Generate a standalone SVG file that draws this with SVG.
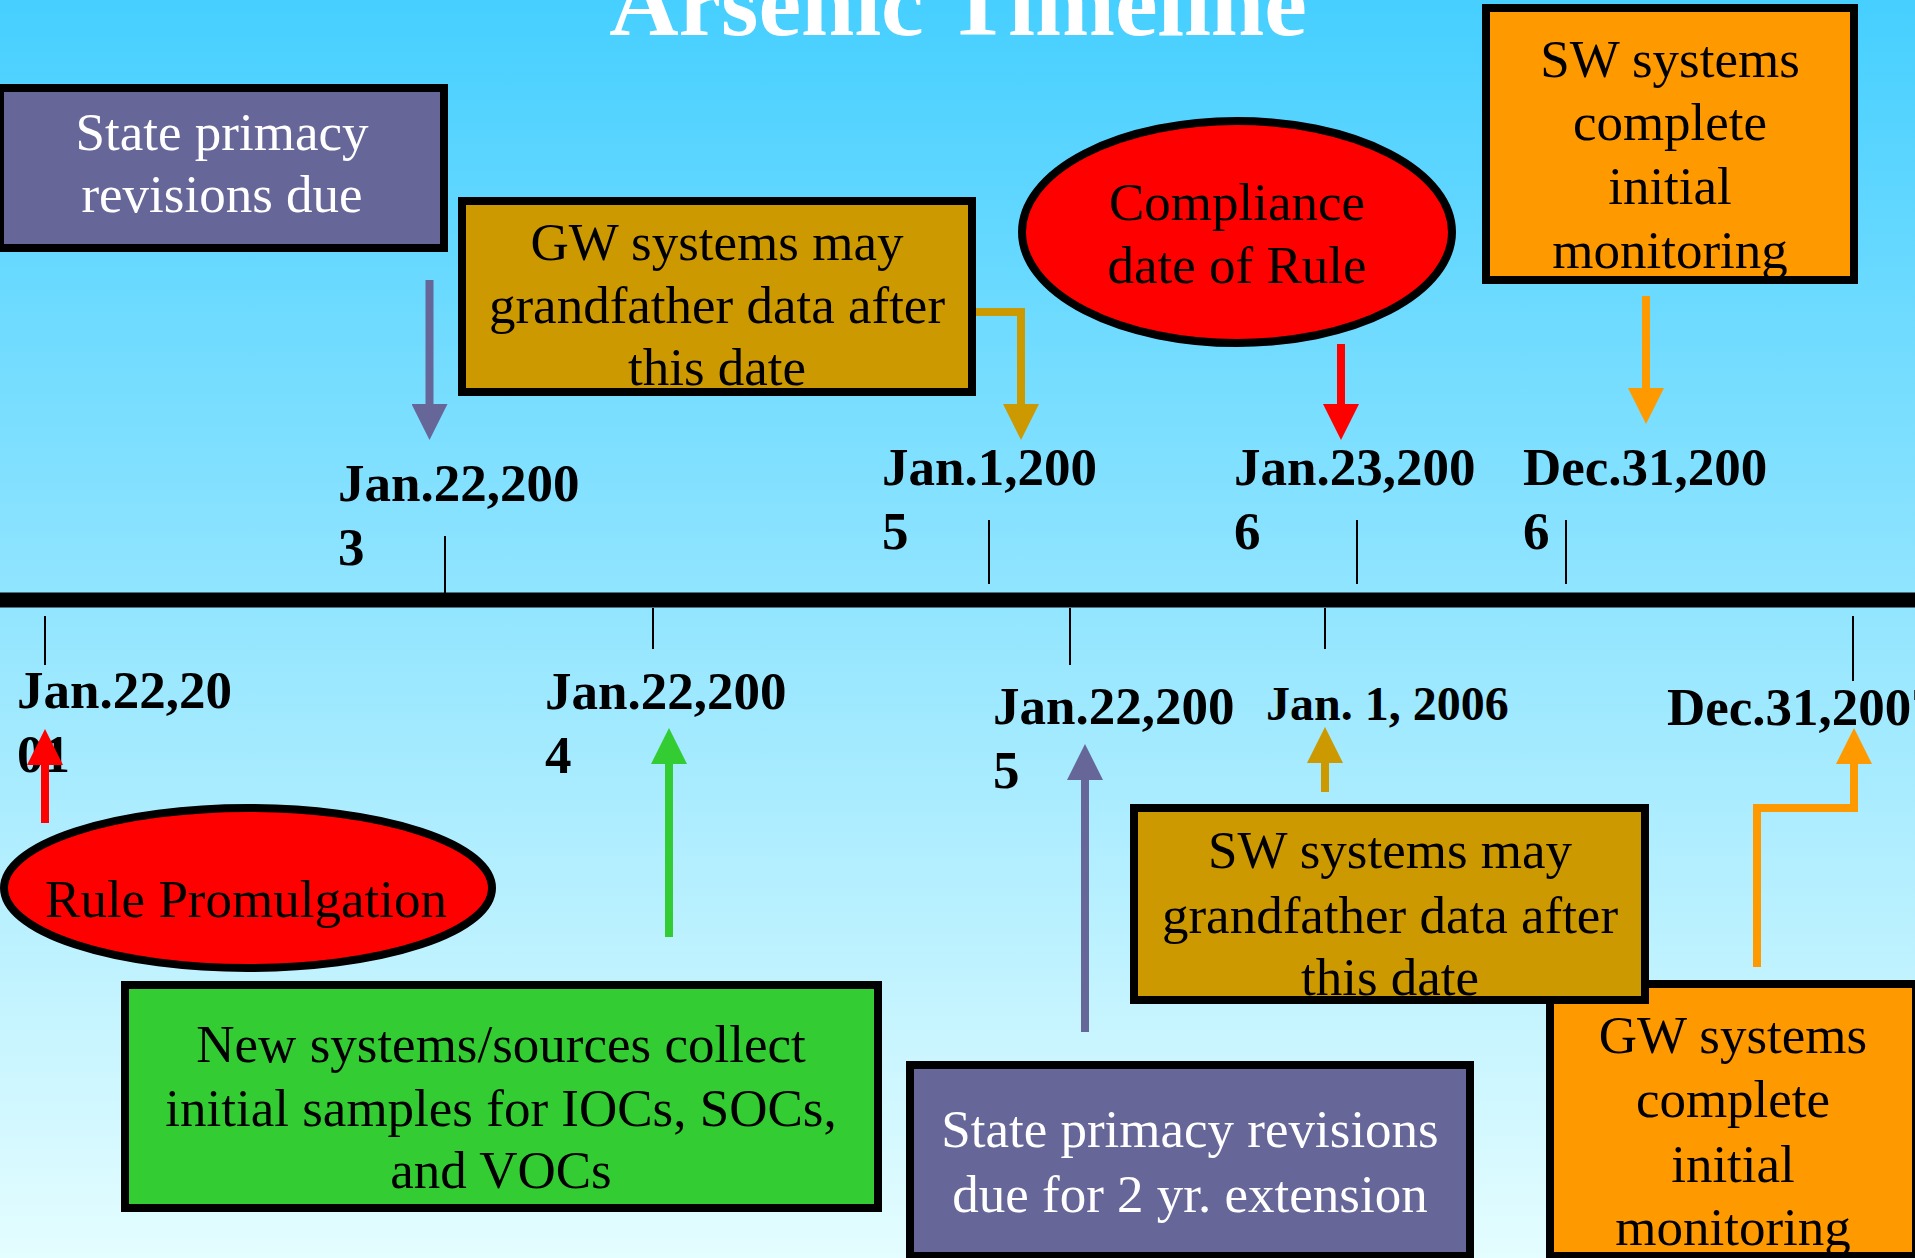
<svg xmlns="http://www.w3.org/2000/svg" width="1915" height="1258" viewBox="0 0 1915 1258">
<defs>
<linearGradient id="bg" x1="0" y1="0" x2="0" y2="1">
<stop offset="0" stop-color="#46CFFF"/>
<stop offset="1" stop-color="#E4FDFF"/>
</linearGradient>
<marker id="aPurple" markerUnits="userSpaceOnUse" viewBox="0 0 36 36" markerWidth="36" markerHeight="36" refX="0" refY="18" orient="auto"><path d="M0,0 L36,18 L0,36 Z" fill="#666699"/></marker>
<marker id="aGold" markerUnits="userSpaceOnUse" viewBox="0 0 36 36" markerWidth="36" markerHeight="36" refX="0" refY="18" orient="auto"><path d="M0,0 L36,18 L0,36 Z" fill="#CC9900"/></marker>
<marker id="aRed" markerUnits="userSpaceOnUse" viewBox="0 0 36 36" markerWidth="36" markerHeight="36" refX="0" refY="18" orient="auto"><path d="M0,0 L36,18 L0,36 Z" fill="#FF0000"/></marker>
<marker id="aGreen" markerUnits="userSpaceOnUse" viewBox="0 0 36 36" markerWidth="36" markerHeight="36" refX="0" refY="18" orient="auto"><path d="M0,0 L36,18 L0,36 Z" fill="#33CC33"/></marker>
<marker id="aOrange" markerUnits="userSpaceOnUse" viewBox="0 0 36 36" markerWidth="36" markerHeight="36" refX="0" refY="18" orient="auto"><path d="M0,0 L36,18 L0,36 Z" fill="#FF9900"/></marker>
</defs>
<style>
.box{stroke:#000;stroke-width:8}
.t{font-family:"Liberation Serif","Times New Roman",serif;font-size:53px;text-anchor:middle;fill:#000}
.tw{fill:#fff}
.d{font-family:"Liberation Serif","Times New Roman",serif;font-size:53px;font-weight:bold;fill:#000}
.tick{stroke:#000;stroke-width:2}
.c{fill:none;stroke-width:8}
</style>
<rect x="0" y="0" width="1915" height="1258" fill="url(#bg)"/>
<text x="958" y="35" font-family="'Liberation Serif','Times New Roman',serif" font-size="96" font-weight="bold" fill="#fff" text-anchor="middle">Arsenic Timeline</text>

<g id="timeline">
<line x1="0" y1="600" x2="1915" y2="600" stroke="#000" stroke-width="15"/>
<line class="tick" x1="445" y1="536" x2="445" y2="593"/>
<line class="tick" x1="989" y1="520" x2="989" y2="584"/>
<line class="tick" x1="1357" y1="520" x2="1357" y2="584"/>
<line class="tick" x1="1566" y1="520" x2="1566" y2="584"/>
<line class="tick" x1="45" y1="616" x2="45" y2="665"/>
<line class="tick" x1="653" y1="608" x2="653" y2="649"/>
<line class="tick" x1="1070" y1="608" x2="1070" y2="665"/>
<line class="tick" x1="1325" y1="608" x2="1325" y2="649"/>
<line class="tick" x1="1853" y1="616" x2="1853" y2="681"/>
</g>

<g id="dates">
<text class="d" x="338" y="501">Jan.22,200</text><text class="d" x="338" y="565">3</text>
<text class="d" x="882" y="485">Jan.1,200</text><text class="d" x="882" y="549">5</text>
<text class="d" x="1234" y="485">Jan.23,200</text><text class="d" x="1234" y="549">6</text>
<text class="d" x="1523" y="485">Dec.31,200</text><text class="d" x="1523" y="549">6</text>
<text class="d" x="17" y="708">Jan.22,20</text><text class="d" x="17" y="772">01</text>
<text class="d" x="545" y="709">Jan.22,200</text><text class="d" x="545" y="773">4</text>
<text class="d" x="993" y="724">Jan.22,200</text><text class="d" x="993" y="788">5</text>
<text class="d" x="1266" y="720" style="font-size:48px">Jan. 1, 2006</text>
<text class="d" x="1667" y="725">Dec.31,2007</text>
</g>

<g id="connectors">
<line class="c" stroke="#666699" x1="429.5" y1="280" x2="429.5" y2="404" marker-end="url(#aPurple)"/>
<path class="c" stroke="#CC9900" stroke-width="7" d="M976,312 H1021 V404" marker-end="url(#aGold)"/>
<line class="c" stroke="#FF0000" x1="1341" y1="344" x2="1341" y2="404" marker-end="url(#aRed)"/>
<line class="c" stroke="#FF9900" x1="1646" y1="296" x2="1646" y2="388" marker-end="url(#aOrange)"/>
<line class="c" stroke="#FF0000" x1="45" y1="823" x2="45" y2="765" marker-end="url(#aRed)"/>
<line class="c" stroke="#33CC33" x1="669" y1="937" x2="669" y2="764" marker-end="url(#aGreen)"/>
<line class="c" stroke="#666699" x1="1085" y1="1032" x2="1085" y2="780" marker-end="url(#aPurple)"/>
<line class="c" stroke="#CC9900" x1="1325" y1="792" x2="1325" y2="763" marker-end="url(#aGold)"/>
<path class="c" stroke="#FF9900" stroke-width="7" d="M1757,967 V808 H1854 V764" marker-end="url(#aOrange)"/>
</g>

<g id="state-primacy">
<rect class="box" x="0" y="88" width="444" height="160" fill="#666699"/>
<text class="t tw" x="222" y="150">State primacy</text>
<text class="t tw" x="222" y="212">revisions due</text>
</g>

<g id="gw-grandfather">
<rect class="box" x="462" y="201" width="510" height="191" fill="#CC9900"/>
<text class="t" x="717" y="260">GW systems may</text>
<text class="t" x="717" y="323">grandfather data after</text>
<text class="t" x="717" y="385">this date</text>
</g>

<g id="compliance">
<ellipse class="box" cx="1237" cy="232" rx="215" ry="111" fill="#FF0000"/>
<text class="t" x="1237" y="220">Compliance</text>
<text class="t" x="1237" y="283">date of Rule</text>
</g>

<g id="sw-complete">
<rect class="box" x="1486" y="8" width="368" height="272" fill="#FF9900"/>
<text class="t" x="1670" y="77">SW systems</text>
<text class="t" x="1670" y="140">complete</text>
<text class="t" x="1670" y="204">initial</text>
<text class="t" x="1670" y="268">monitoring</text>
</g>

<g id="rule-promulgation">
<ellipse class="box" cx="248" cy="888" rx="244" ry="80" fill="#FF0000"/>
<text class="t" x="246" y="917">Rule Promulgation</text>
</g>

<g id="new-systems">
<rect class="box" x="125" y="985" width="753" height="223" fill="#33CC33"/>
<text class="t" x="501" y="1062">New systems/sources collect</text>
<text class="t" x="501" y="1126">initial samples for IOCs, SOCs,</text>
<text class="t" x="501" y="1188">and VOCs</text>
</g>

<g id="state-primacy-extension">
<rect class="box" x="910" y="1065" width="560" height="191" fill="#666699"/>
<text class="t tw" x="1190" y="1147">State primacy revisions</text>
<text class="t tw" x="1190" y="1212">due for 2 yr. extension</text>
</g>

<g id="gw-complete">
<rect class="box" x="1550" y="984" width="366" height="272" fill="#FF9900"/>
<text class="t" x="1733" y="1053">GW systems</text>
<text class="t" x="1733" y="1117">complete</text>
<text class="t" x="1733" y="1182">initial</text>
<text class="t" x="1733" y="1245">monitoring</text>
</g>

<g id="sw-grandfather">
<rect class="box" x="1134" y="808" width="511" height="192" fill="#CC9900"/>
<text class="t" x="1390" y="868">SW systems may</text>
<text class="t" x="1390" y="933">grandfather data after</text>
<text class="t" x="1390" y="995">this date</text>
</g>
</svg>
